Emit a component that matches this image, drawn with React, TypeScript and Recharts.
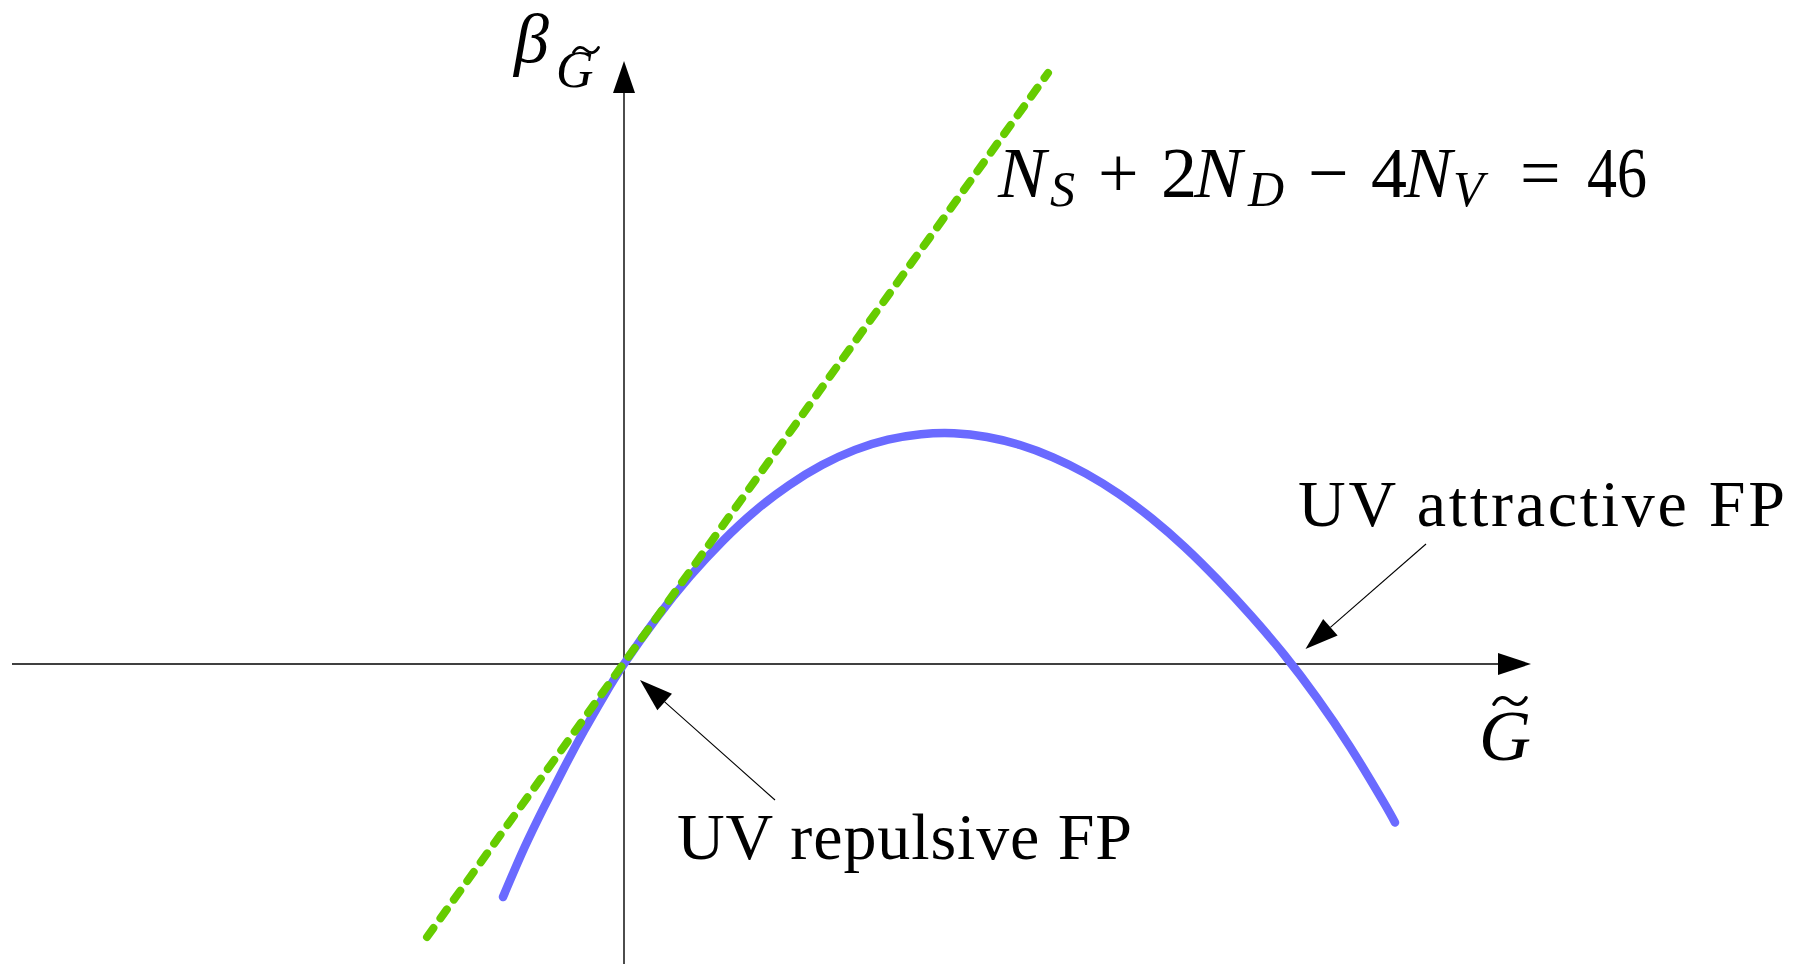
import React from "react";
import { ComposedChart, Line, XAxis, YAxis, ReferenceLine, ReferenceDot } from "recharts";

// beta function of G~, sampled along the curve
const G_VALUES = [
  -1.21, -1.0, -0.8, -0.6, -0.4, -0.2, 0, 0.33, 0.66, 0.99, 1.32, 1.65, 1.98, 2.31, 2.64,
  2.97, 3.3, 3.63, 3.96, 4.29, 4.62, 4.95, 5.28, 5.61, 5.94, 6.27, 6.6, 6.93, 7.26, 7.59,
  7.71,
];
const BETA_VALUES = [
  -2.33, -1.846, -1.432, -1.04, -0.668, -0.32, 0, 0.465, 0.877, 1.233, 1.538, 1.788, 1.989,
  2.141, 2.243, 2.298, 2.308, 2.27, 2.19, 2.067, 1.904, 1.7, 1.454, 1.167, 0.84, 0.484,
  0.095, -0.339, -0.827, -1.372, -1.585,
];

// one-loop tangent through the origin
const TANGENT_G = [-1.97, 4.24];
const TANGENT_BETA = [-2.73, 5.91];

// fixed points
const REPULSIVE_FP = { g: 0, beta: 0 };
const ATTRACTIVE_FP = { g: 6.68, beta: 0 };

const LABEL_REPULSIVE = "UV repulsive FP";
const LABEL_ATTRACTIVE = "UV attractive FP";

const X_DOMAIN = [-6.24, 11.82];
const Y_DOMAIN = [-3.0, 6.64];

const curveData = G_VALUES.map((g, i) => ({ g, beta: BETA_VALUES[i] }));
const tangentData = TANGENT_G.map((g, i) => ({ g, beta: TANGENT_BETA[i] }));

const SERIF = '"Liberation Serif", "Times New Roman", Tinos, "DejaVu Serif", "Noto Serif", serif';

// line with a filled triangular head at (x2, y2)
function arrowShape(headLen: number, halfWidth: number, width: number) {
  return (props: any) => {
    const { x1, y1, x2, y2 } = props;
    const dx = x2 - x1;
    const dy = y2 - y1;
    const len = Math.hypot(dx, dy) || 1;
    const ux = dx / len;
    const uy = dy / len;
    const bx = x2 - ux * headLen;
    const by = y2 - uy * headLen;
    const pts = `${x2},${y2} ${bx - uy * halfWidth},${by + ux * halfWidth} ${bx + uy * halfWidth},${by - ux * halfWidth}`;
    return (
      <g>
        <line x1={x1} y1={y1} x2={bx} y2={by} stroke="#000" strokeWidth={width} />
        <polygon points={pts} fill="#000" />
      </g>
    );
  };
}

function tilde(cx: number, cy: number, w: number, h: number, sw: number) {
  const x0 = cx - w / 2;
  const d = `M ${x0} ${cy + h * 0.35} C ${x0 + w * 0.15} ${cy - h * 0.6}, ${x0 + w * 0.35} ${cy - h * 0.5}, ${x0 + w * 0.5} ${cy} S ${x0 + w * 0.85} ${cy + h * 0.6}, ${x0 + w} ${cy - h * 0.35}`;
  return <path d={d} fill="none" stroke="#000" strokeWidth={sw} strokeLinecap="round" />;
}

function plainLabel(text: string, size: number, length: number) {
  return (props: any) => (
    <text
      x={props.cx}
      y={props.cy}
      style={{ fontFamily: SERIF }}
      fontSize={size}
      textLength={length}
      lengthAdjust="spacing"
      fill="#000"
    >
      {text}
    </text>
  );
}

const formulaParts = [
  { t: "N", x: 0, it: true },
  { t: "S", x: 52, it: true, sub: true },
  { t: "+", x: 100 },
  { t: "2", x: 163 },
  { t: "N", x: 196, it: true },
  { t: "D", x: 250, it: true, sub: true },
  { t: "\u2212", x: 310 },
  { t: "4", x: 373 },
  { t: "N", x: 406, it: true },
  { t: "V", x: 455, it: true, sub: true },
  { t: "=", x: 522 },
  { t: "46", x: 589 },
];

function formulaLabel(props: any) {
  const { cx, cy } = props;
  return (
    <g style={{ fontFamily: SERIF }} fill="#000">
      {formulaParts.map((p, i) => (
        <text
          key={i}
          x={cx + p.x}
          y={cy + (p.sub ? 9 : 0)}
          fontSize={p.sub ? 50 : 72}
          fontStyle={p.it ? "italic" : "normal"}
          textLength={p.t === "46" ? 60 : undefined}
          lengthAdjust="spacingAndGlyphs"
        >
          {p.t}
        </text>
      ))}
    </g>
  );
}

function betaLabel(props: any) {
  const { cx, cy } = props;
  return (
    <g style={{ fontFamily: SERIF }} fill="#000">
      <text x={cx} y={cy} fontSize={70} fontStyle="italic">
        {"\u03B2"}
      </text>
      <text x={cx + 42} y={cy + 25} fontSize={52} fontStyle="italic">
        G
      </text>
      {tilde(cx + 72, cy - 12, 25, 7, 2.8)}
    </g>
  );
}

function gLabel(props: any) {
  const { cx, cy } = props;
  return (
    <g style={{ fontFamily: SERIF }} fill="#000">
      <text x={cx} y={cy} fontSize={72} fontStyle="italic">
        G
      </text>
      {tilde(cx + 31, cy - 59, 32, 9, 3.4)}
    </g>
  );
}

export default function App() {
  return (
    <div style={{ width: 1806, height: 964, background: "#fff" }}>
      <style>{"body{margin:0} .recharts-line-curve{stroke-linecap:round !important;stroke-linejoin:round}"}</style>
      <ComposedChart width={1806} height={964} margin={{ top: 0, right: 0, bottom: 0, left: 0 }}>
        <XAxis type="number" dataKey="g" domain={X_DOMAIN} allowDataOverflow hide />
        <YAxis type="number" dataKey="beta" domain={Y_DOMAIN} allowDataOverflow hide />

        <ReferenceLine
          segment={[{ x: -6.12, y: 0 }, { x: 9.07, y: 0 }]}
          ifOverflow="visible"
          shape={arrowShape(33, 11, 1.4)}
        />
        <ReferenceLine
          segment={[{ x: 0, y: -3.0 }, { x: 0, y: 6.03 }]}
          ifOverflow="visible"
          shape={arrowShape(32, 11, 1.4)}
        />

        <Line
          data={curveData}
          dataKey="beta"
          type="natural"
          stroke="#6a6aff"
          strokeWidth={8.5}
          strokeLinecap="round"
          dot={false}
          activeDot={false}
          isAnimationActive={false}
        />
        <Line
          data={tangentData}
          dataKey="beta"
          type="linear"
          stroke="#66cc00"
          strokeWidth={8}
          strokeLinecap="round"
          strokeDasharray="11 12"
          dot={false}
          activeDot={false}
          isAnimationActive={false}
        />

        <ReferenceLine
          segment={[{ x: 1.51, y: -1.36 }, { x: REPULSIVE_FP.g + 0.16, y: REPULSIVE_FP.beta - 0.16 }]}
          ifOverflow="visible"
          shape={arrowShape(33, 11, 1.1)}
        />
        <ReferenceLine
          segment={[{ x: 8.02, y: 1.2 }, { x: ATTRACTIVE_FP.g + 0.135, y: ATTRACTIVE_FP.beta + 0.15 }]}
          ifOverflow="visible"
          shape={arrowShape(33, 11, 1.1)}
        />

        <ReferenceDot x={0.53} y={-1.95} r={0} ifOverflow="visible" shape={plainLabel(LABEL_REPULSIVE, 66, 455)} />
        <ReferenceDot x={6.74} y={1.38} r={0} ifOverflow="visible" shape={plainLabel(LABEL_ATTRACTIVE, 66, 487)} />
        <ReferenceDot x={3.74} y={4.67} r={0} ifOverflow="visible" shape={formulaLabel} />
        <ReferenceDot x={-1.1} y={6.02} r={0} ifOverflow="visible" shape={betaLabel} />
        <ReferenceDot x={8.55} y={-0.96} r={0} ifOverflow="visible" shape={gLabel} />
      </ComposedChart>
    </div>
  );
}
